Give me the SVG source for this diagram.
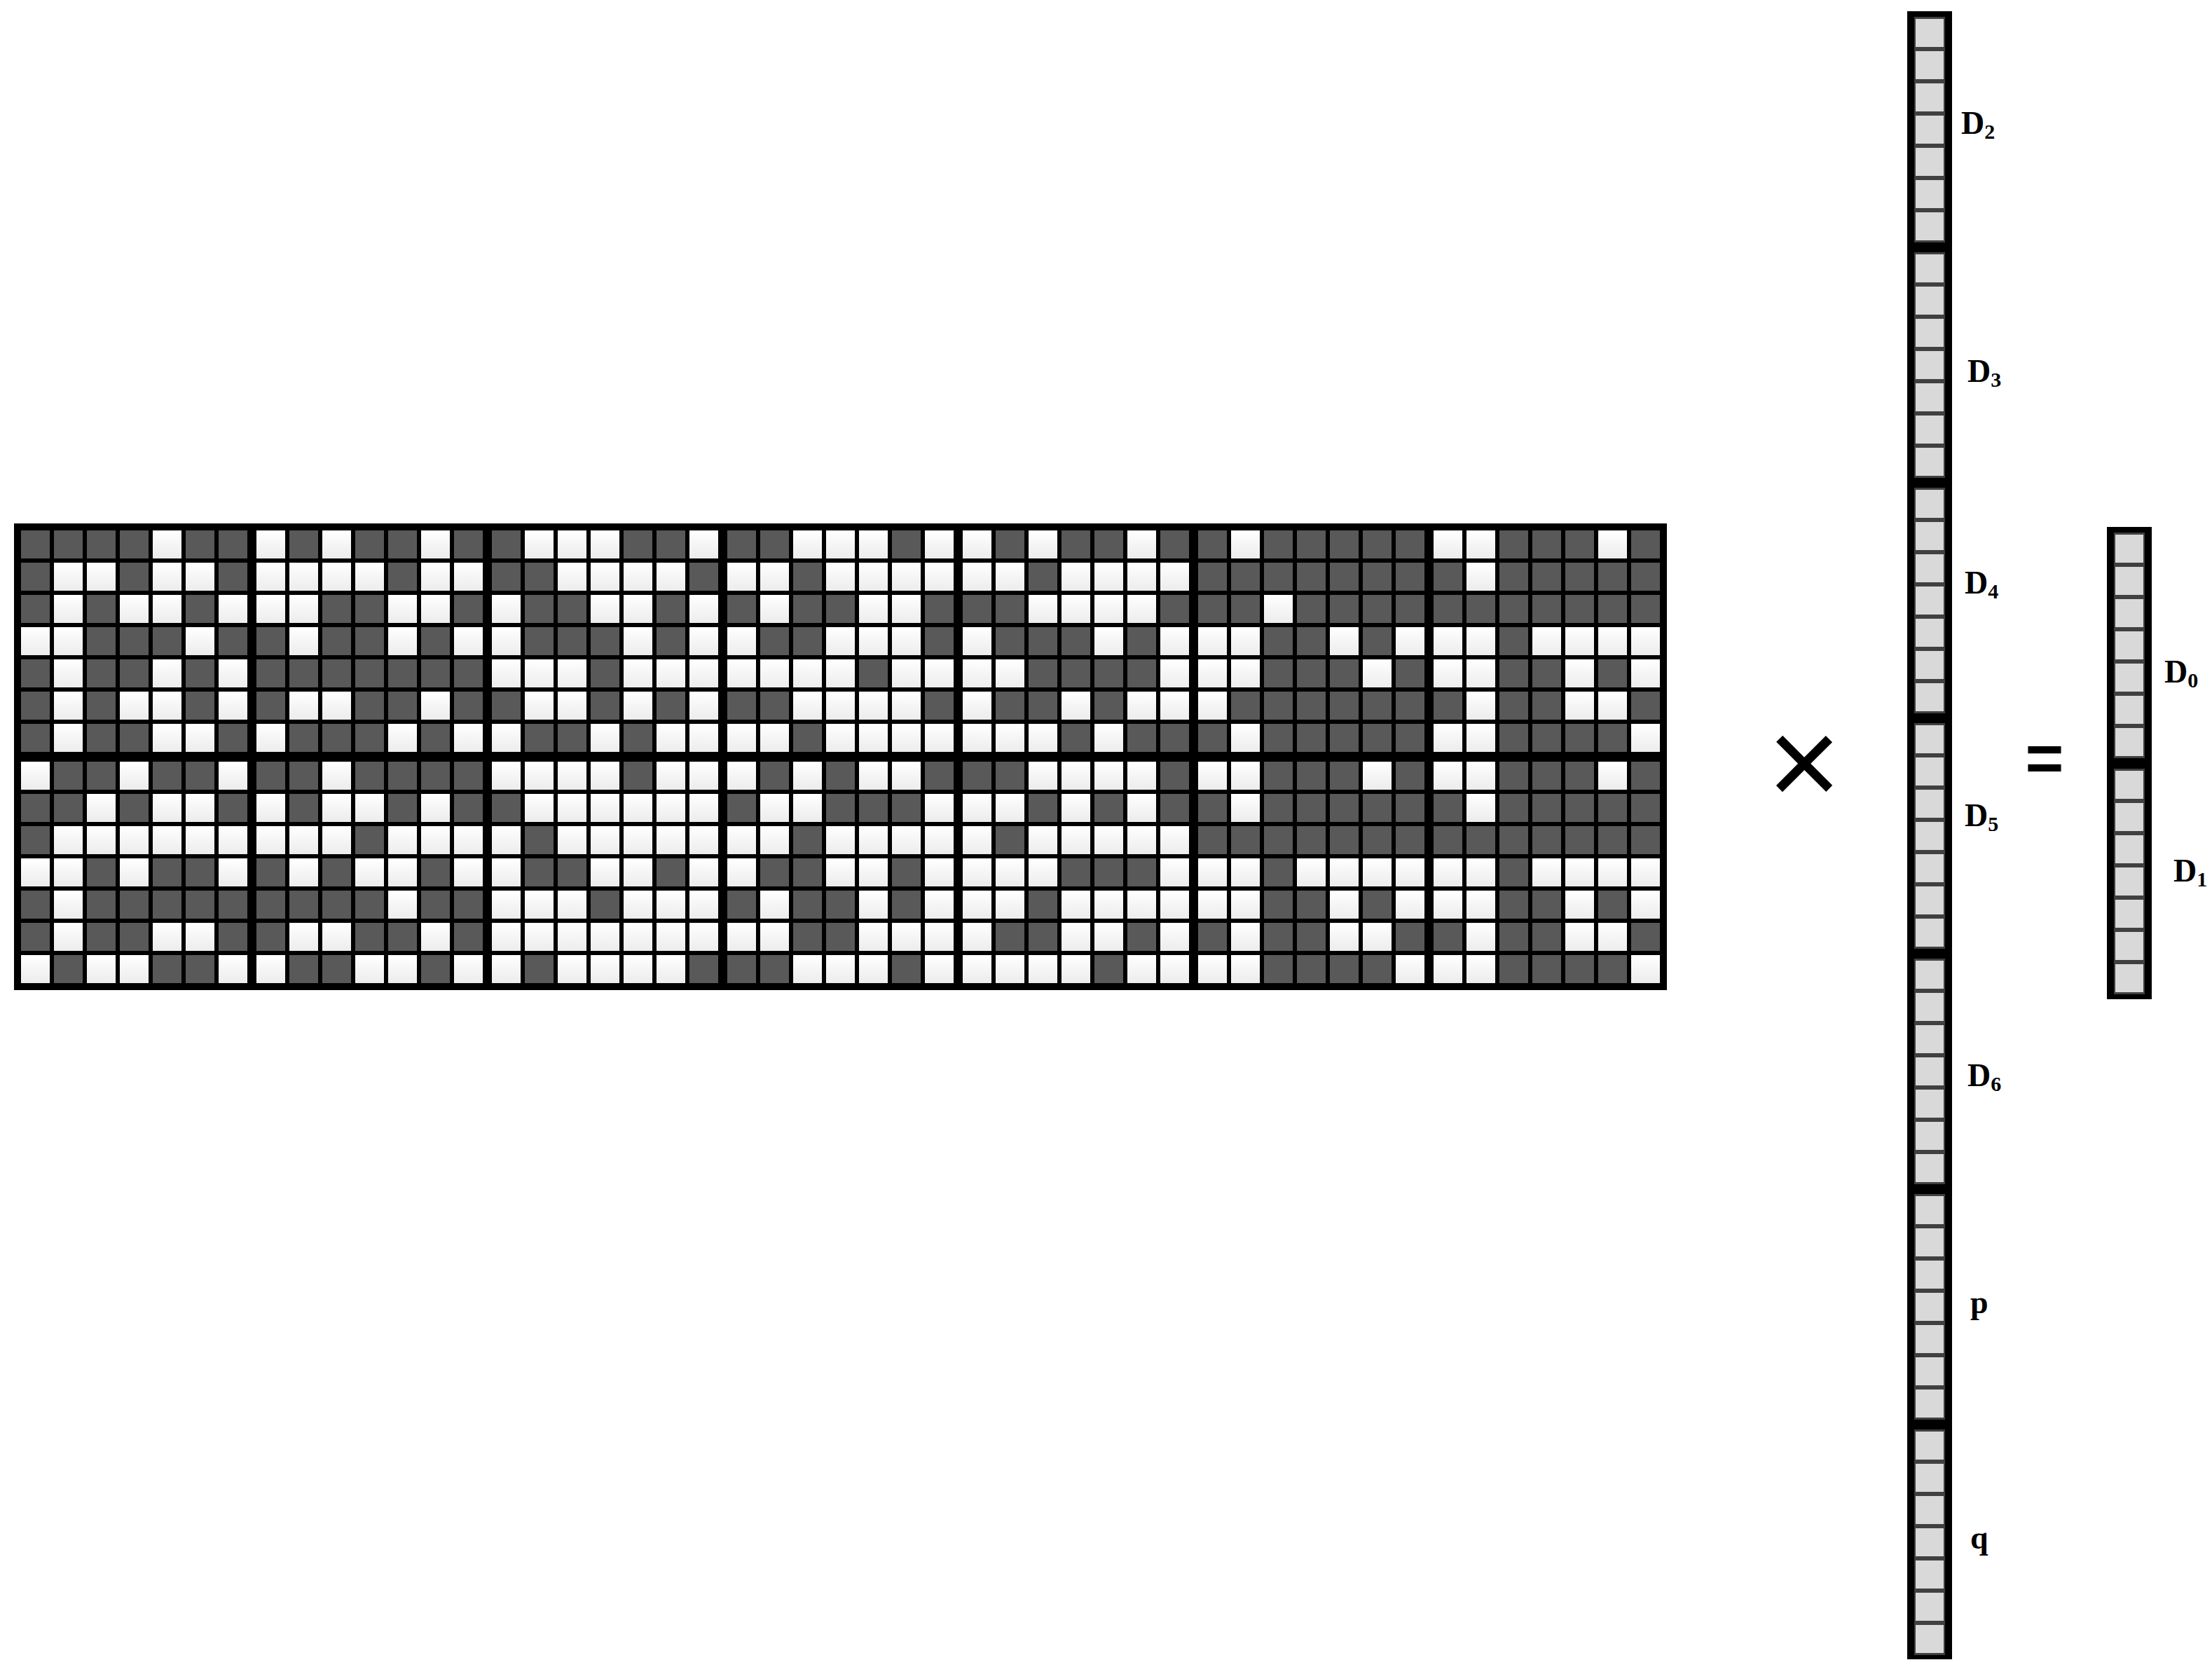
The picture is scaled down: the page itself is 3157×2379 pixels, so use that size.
<svg xmlns="http://www.w3.org/2000/svg" xmlns:xlink="http://www.w3.org/1999/xlink" width="3157" height="2379" viewBox="0 0 3157 2379">
<style>
.lbl{font-family:"Liberation Serif","Times New Roman",serif;font-weight:bold;font-size:46px;fill:#000}
.sub{font-size:30px}
.op{font-family:"Liberation Sans",Arial,sans-serif;fill:#000;text-anchor:middle}
</style>
<defs>
<linearGradient id="gw" x1="0" y1="0" x2="0" y2="1"><stop offset="0" stop-color="#ffffff"/><stop offset="1" stop-color="#ececec"/></linearGradient>
<pattern id="pd" width="47" height="46" patternUnits="userSpaceOnUse"><rect width="41" height="40" fill="#595959"/></pattern>
<pattern id="pc" x="12" y="11" width="40" height="46" patternUnits="userSpaceOnUse"><rect width="40" height="40" fill="#d9d9d9"/></pattern>
<rect id="w" width="41" height="40" fill="url(#gw)"/>
</defs>
<rect width="3157" height="2379" fill="#fff"/>
<g id="matrix">
<rect x="20" y="747" width="2359" height="666" fill="#000"/>
<g id="block-1-1" transform="translate(30,757)"><rect width="323" height="316" fill="url(#pd)"/>
<use href="#w" x="188" y="0"/>
<use href="#w" x="47" y="46"/><use href="#w" x="94" y="46"/><use href="#w" x="188" y="46"/><use href="#w" x="235" y="46"/>
<use href="#w" x="47" y="92"/><use href="#w" x="141" y="92"/><use href="#w" x="188" y="92"/><use href="#w" x="282" y="92"/>
<use href="#w" x="0" y="138"/><use href="#w" x="47" y="138"/><use href="#w" x="235" y="138"/>
<use href="#w" x="47" y="184"/><use href="#w" x="188" y="184"/><use href="#w" x="282" y="184"/>
<use href="#w" x="47" y="230"/><use href="#w" x="141" y="230"/><use href="#w" x="188" y="230"/><use href="#w" x="282" y="230"/>
<use href="#w" x="47" y="276"/><use href="#w" x="188" y="276"/><use href="#w" x="235" y="276"/>
</g>
<g id="block-2-1" transform="translate(30,1087)"><rect width="323" height="316" fill="url(#pd)"/>
<use href="#w" x="0" y="0"/><use href="#w" x="141" y="0"/><use href="#w" x="282" y="0"/>
<use href="#w" x="94" y="46"/><use href="#w" x="188" y="46"/><use href="#w" x="235" y="46"/>
<use href="#w" x="47" y="92"/><use href="#w" x="94" y="92"/><use href="#w" x="141" y="92"/><use href="#w" x="188" y="92"/><use href="#w" x="235" y="92"/><use href="#w" x="282" y="92"/>
<use href="#w" x="0" y="138"/><use href="#w" x="47" y="138"/><use href="#w" x="141" y="138"/><use href="#w" x="282" y="138"/>
<use href="#w" x="47" y="184"/>
<use href="#w" x="47" y="230"/><use href="#w" x="188" y="230"/><use href="#w" x="235" y="230"/>
<use href="#w" x="0" y="276"/><use href="#w" x="94" y="276"/><use href="#w" x="141" y="276"/><use href="#w" x="282" y="276"/>
</g>
<g id="block-1-2" transform="translate(366,757)"><rect width="323" height="316" fill="url(#pd)"/>
<use href="#w" x="0" y="0"/><use href="#w" x="94" y="0"/><use href="#w" x="235" y="0"/>
<use href="#w" x="0" y="46"/><use href="#w" x="47" y="46"/><use href="#w" x="94" y="46"/><use href="#w" x="141" y="46"/><use href="#w" x="235" y="46"/><use href="#w" x="282" y="46"/>
<use href="#w" x="0" y="92"/><use href="#w" x="47" y="92"/><use href="#w" x="188" y="92"/><use href="#w" x="235" y="92"/>
<use href="#w" x="47" y="138"/><use href="#w" x="188" y="138"/><use href="#w" x="282" y="138"/>
<use href="#w" x="47" y="230"/><use href="#w" x="94" y="230"/><use href="#w" x="235" y="230"/>
<use href="#w" x="0" y="276"/><use href="#w" x="188" y="276"/><use href="#w" x="282" y="276"/>
</g>
<g id="block-2-2" transform="translate(366,1087)"><rect width="323" height="316" fill="url(#pd)"/>
<use href="#w" x="94" y="0"/>
<use href="#w" x="0" y="46"/><use href="#w" x="94" y="46"/><use href="#w" x="141" y="46"/><use href="#w" x="235" y="46"/>
<use href="#w" x="0" y="92"/><use href="#w" x="47" y="92"/><use href="#w" x="94" y="92"/><use href="#w" x="188" y="92"/><use href="#w" x="235" y="92"/><use href="#w" x="282" y="92"/>
<use href="#w" x="47" y="138"/><use href="#w" x="141" y="138"/><use href="#w" x="188" y="138"/><use href="#w" x="282" y="138"/>
<use href="#w" x="188" y="184"/>
<use href="#w" x="47" y="230"/><use href="#w" x="94" y="230"/><use href="#w" x="235" y="230"/>
<use href="#w" x="0" y="276"/><use href="#w" x="141" y="276"/><use href="#w" x="188" y="276"/><use href="#w" x="282" y="276"/>
</g>
<g id="block-1-3" transform="translate(702,757)"><rect width="323" height="316" fill="url(#pd)"/>
<use href="#w" x="47" y="0"/><use href="#w" x="94" y="0"/><use href="#w" x="141" y="0"/><use href="#w" x="282" y="0"/>
<use href="#w" x="94" y="46"/><use href="#w" x="141" y="46"/><use href="#w" x="188" y="46"/><use href="#w" x="235" y="46"/>
<use href="#w" x="0" y="92"/><use href="#w" x="141" y="92"/><use href="#w" x="188" y="92"/><use href="#w" x="282" y="92"/>
<use href="#w" x="0" y="138"/><use href="#w" x="188" y="138"/><use href="#w" x="282" y="138"/>
<use href="#w" x="0" y="184"/><use href="#w" x="47" y="184"/><use href="#w" x="94" y="184"/><use href="#w" x="188" y="184"/><use href="#w" x="235" y="184"/><use href="#w" x="282" y="184"/>
<use href="#w" x="47" y="230"/><use href="#w" x="94" y="230"/><use href="#w" x="188" y="230"/><use href="#w" x="282" y="230"/>
<use href="#w" x="0" y="276"/><use href="#w" x="141" y="276"/><use href="#w" x="235" y="276"/><use href="#w" x="282" y="276"/>
</g>
<g id="block-2-3" transform="translate(702,1087)"><rect width="323" height="316" fill="url(#pd)"/>
<use href="#w" x="0" y="0"/><use href="#w" x="47" y="0"/><use href="#w" x="94" y="0"/><use href="#w" x="141" y="0"/><use href="#w" x="235" y="0"/><use href="#w" x="282" y="0"/>
<use href="#w" x="47" y="46"/><use href="#w" x="94" y="46"/><use href="#w" x="141" y="46"/><use href="#w" x="188" y="46"/><use href="#w" x="235" y="46"/><use href="#w" x="282" y="46"/>
<use href="#w" x="0" y="92"/><use href="#w" x="94" y="92"/><use href="#w" x="141" y="92"/><use href="#w" x="188" y="92"/><use href="#w" x="235" y="92"/><use href="#w" x="282" y="92"/>
<use href="#w" x="0" y="138"/><use href="#w" x="141" y="138"/><use href="#w" x="188" y="138"/><use href="#w" x="282" y="138"/>
<use href="#w" x="0" y="184"/><use href="#w" x="47" y="184"/><use href="#w" x="94" y="184"/><use href="#w" x="188" y="184"/><use href="#w" x="235" y="184"/><use href="#w" x="282" y="184"/>
<use href="#w" x="0" y="230"/><use href="#w" x="47" y="230"/><use href="#w" x="94" y="230"/><use href="#w" x="141" y="230"/><use href="#w" x="188" y="230"/><use href="#w" x="235" y="230"/><use href="#w" x="282" y="230"/>
<use href="#w" x="0" y="276"/><use href="#w" x="94" y="276"/><use href="#w" x="141" y="276"/><use href="#w" x="188" y="276"/><use href="#w" x="235" y="276"/>
</g>
<g id="block-1-4" transform="translate(1038,757)"><rect width="323" height="316" fill="url(#pd)"/>
<use href="#w" x="94" y="0"/><use href="#w" x="141" y="0"/><use href="#w" x="188" y="0"/><use href="#w" x="282" y="0"/>
<use href="#w" x="0" y="46"/><use href="#w" x="47" y="46"/><use href="#w" x="141" y="46"/><use href="#w" x="188" y="46"/><use href="#w" x="235" y="46"/><use href="#w" x="282" y="46"/>
<use href="#w" x="47" y="92"/><use href="#w" x="188" y="92"/><use href="#w" x="235" y="92"/>
<use href="#w" x="0" y="138"/><use href="#w" x="141" y="138"/><use href="#w" x="188" y="138"/><use href="#w" x="235" y="138"/>
<use href="#w" x="0" y="184"/><use href="#w" x="47" y="184"/><use href="#w" x="94" y="184"/><use href="#w" x="141" y="184"/><use href="#w" x="235" y="184"/><use href="#w" x="282" y="184"/>
<use href="#w" x="94" y="230"/><use href="#w" x="141" y="230"/><use href="#w" x="188" y="230"/><use href="#w" x="235" y="230"/>
<use href="#w" x="0" y="276"/><use href="#w" x="47" y="276"/><use href="#w" x="141" y="276"/><use href="#w" x="188" y="276"/><use href="#w" x="235" y="276"/><use href="#w" x="282" y="276"/>
</g>
<g id="block-2-4" transform="translate(1038,1087)"><rect width="323" height="316" fill="url(#pd)"/>
<use href="#w" x="0" y="0"/><use href="#w" x="94" y="0"/><use href="#w" x="188" y="0"/><use href="#w" x="235" y="0"/>
<use href="#w" x="47" y="46"/><use href="#w" x="94" y="46"/><use href="#w" x="282" y="46"/>
<use href="#w" x="0" y="92"/><use href="#w" x="47" y="92"/><use href="#w" x="141" y="92"/><use href="#w" x="188" y="92"/><use href="#w" x="235" y="92"/><use href="#w" x="282" y="92"/>
<use href="#w" x="0" y="138"/><use href="#w" x="141" y="138"/><use href="#w" x="188" y="138"/><use href="#w" x="282" y="138"/>
<use href="#w" x="47" y="184"/><use href="#w" x="188" y="184"/><use href="#w" x="282" y="184"/>
<use href="#w" x="0" y="230"/><use href="#w" x="47" y="230"/><use href="#w" x="188" y="230"/><use href="#w" x="235" y="230"/><use href="#w" x="282" y="230"/>
<use href="#w" x="94" y="276"/><use href="#w" x="141" y="276"/><use href="#w" x="188" y="276"/><use href="#w" x="282" y="276"/>
</g>
<g id="block-1-5" transform="translate(1374,757)"><rect width="323" height="316" fill="url(#pd)"/>
<use href="#w" x="0" y="0"/><use href="#w" x="94" y="0"/><use href="#w" x="235" y="0"/>
<use href="#w" x="0" y="46"/><use href="#w" x="47" y="46"/><use href="#w" x="141" y="46"/><use href="#w" x="188" y="46"/><use href="#w" x="235" y="46"/><use href="#w" x="282" y="46"/>
<use href="#w" x="94" y="92"/><use href="#w" x="141" y="92"/><use href="#w" x="188" y="92"/><use href="#w" x="235" y="92"/>
<use href="#w" x="0" y="138"/><use href="#w" x="188" y="138"/><use href="#w" x="282" y="138"/>
<use href="#w" x="0" y="184"/><use href="#w" x="47" y="184"/><use href="#w" x="282" y="184"/>
<use href="#w" x="0" y="230"/><use href="#w" x="141" y="230"/><use href="#w" x="235" y="230"/><use href="#w" x="282" y="230"/>
<use href="#w" x="0" y="276"/><use href="#w" x="47" y="276"/><use href="#w" x="94" y="276"/><use href="#w" x="188" y="276"/>
</g>
<g id="block-2-5" transform="translate(1374,1087)"><rect width="323" height="316" fill="url(#pd)"/>
<use href="#w" x="94" y="0"/><use href="#w" x="141" y="0"/><use href="#w" x="188" y="0"/><use href="#w" x="235" y="0"/>
<use href="#w" x="0" y="46"/><use href="#w" x="47" y="46"/><use href="#w" x="141" y="46"/><use href="#w" x="235" y="46"/>
<use href="#w" x="0" y="92"/><use href="#w" x="94" y="92"/><use href="#w" x="141" y="92"/><use href="#w" x="188" y="92"/><use href="#w" x="235" y="92"/><use href="#w" x="282" y="92"/>
<use href="#w" x="0" y="138"/><use href="#w" x="47" y="138"/><use href="#w" x="94" y="138"/><use href="#w" x="282" y="138"/>
<use href="#w" x="0" y="184"/><use href="#w" x="47" y="184"/><use href="#w" x="141" y="184"/><use href="#w" x="188" y="184"/><use href="#w" x="235" y="184"/><use href="#w" x="282" y="184"/>
<use href="#w" x="0" y="230"/><use href="#w" x="141" y="230"/><use href="#w" x="188" y="230"/><use href="#w" x="282" y="230"/>
<use href="#w" x="0" y="276"/><use href="#w" x="47" y="276"/><use href="#w" x="94" y="276"/><use href="#w" x="141" y="276"/><use href="#w" x="235" y="276"/><use href="#w" x="282" y="276"/>
</g>
<g id="block-1-6" transform="translate(1710,757)"><rect width="323" height="316" fill="url(#pd)"/>
<use href="#w" x="47" y="0"/>
<use href="#w" x="94" y="92"/>
<use href="#w" x="0" y="138"/><use href="#w" x="47" y="138"/><use href="#w" x="188" y="138"/><use href="#w" x="282" y="138"/>
<use href="#w" x="0" y="184"/><use href="#w" x="47" y="184"/><use href="#w" x="235" y="184"/>
<use href="#w" x="0" y="230"/>
<use href="#w" x="47" y="276"/>
</g>
<g id="block-2-6" transform="translate(1710,1087)"><rect width="323" height="316" fill="url(#pd)"/>
<use href="#w" x="0" y="0"/><use href="#w" x="47" y="0"/><use href="#w" x="235" y="0"/>
<use href="#w" x="47" y="46"/>
<use href="#w" x="0" y="138"/><use href="#w" x="47" y="138"/><use href="#w" x="141" y="138"/><use href="#w" x="188" y="138"/><use href="#w" x="235" y="138"/><use href="#w" x="282" y="138"/>
<use href="#w" x="0" y="184"/><use href="#w" x="47" y="184"/><use href="#w" x="188" y="184"/><use href="#w" x="282" y="184"/>
<use href="#w" x="47" y="230"/><use href="#w" x="188" y="230"/><use href="#w" x="235" y="230"/>
<use href="#w" x="0" y="276"/><use href="#w" x="47" y="276"/><use href="#w" x="282" y="276"/>
</g>
<g id="block-1-7" transform="translate(2046,757)"><rect width="323" height="316" fill="url(#pd)"/>
<use href="#w" x="0" y="0"/><use href="#w" x="47" y="0"/><use href="#w" x="235" y="0"/>
<use href="#w" x="47" y="46"/>
<use href="#w" x="0" y="138"/><use href="#w" x="47" y="138"/><use href="#w" x="141" y="138"/><use href="#w" x="188" y="138"/><use href="#w" x="235" y="138"/><use href="#w" x="282" y="138"/>
<use href="#w" x="0" y="184"/><use href="#w" x="47" y="184"/><use href="#w" x="188" y="184"/><use href="#w" x="282" y="184"/>
<use href="#w" x="47" y="230"/><use href="#w" x="188" y="230"/><use href="#w" x="235" y="230"/>
<use href="#w" x="0" y="276"/><use href="#w" x="47" y="276"/><use href="#w" x="282" y="276"/>
</g>
<g id="block-2-7" transform="translate(2046,1087)"><rect width="323" height="316" fill="url(#pd)"/>
<use href="#w" x="0" y="0"/><use href="#w" x="47" y="0"/><use href="#w" x="235" y="0"/>
<use href="#w" x="47" y="46"/>
<use href="#w" x="0" y="138"/><use href="#w" x="47" y="138"/><use href="#w" x="141" y="138"/><use href="#w" x="188" y="138"/><use href="#w" x="235" y="138"/><use href="#w" x="282" y="138"/>
<use href="#w" x="0" y="184"/><use href="#w" x="47" y="184"/><use href="#w" x="188" y="184"/><use href="#w" x="282" y="184"/>
<use href="#w" x="47" y="230"/><use href="#w" x="188" y="230"/><use href="#w" x="235" y="230"/>
<use href="#w" x="0" y="276"/><use href="#w" x="47" y="276"/><use href="#w" x="282" y="276"/>
</g>
</g>
<g id="operator-times"><text class="op" x="2575" y="1150" font-size="180">×</text></g>
<g id="vector-x">
<rect x="2722" y="16" width="64" height="2352" fill="#000"/>
<g id="seg-D2" transform="translate(2722,16)"><rect x="10" y="8" width="44" height="322" fill="#404040"/><rect x="12" y="11" width="40" height="316" fill="url(#pc)"/></g>
<g id="seg-D3" transform="translate(2722,352)"><rect x="10" y="8" width="44" height="322" fill="#404040"/><rect x="12" y="11" width="40" height="316" fill="url(#pc)"/></g>
<g id="seg-D4" transform="translate(2722,688)"><rect x="10" y="8" width="44" height="322" fill="#404040"/><rect x="12" y="11" width="40" height="316" fill="url(#pc)"/></g>
<g id="seg-D5" transform="translate(2722,1024)"><rect x="10" y="8" width="44" height="322" fill="#404040"/><rect x="12" y="11" width="40" height="316" fill="url(#pc)"/></g>
<g id="seg-D6" transform="translate(2722,1360)"><rect x="10" y="8" width="44" height="322" fill="#404040"/><rect x="12" y="11" width="40" height="316" fill="url(#pc)"/></g>
<g id="seg-p" transform="translate(2722,1696)"><rect x="10" y="8" width="44" height="322" fill="#404040"/><rect x="12" y="11" width="40" height="316" fill="url(#pc)"/></g>
<g id="seg-q" transform="translate(2722,2032)"><rect x="10" y="8" width="44" height="322" fill="#404040"/><rect x="12" y="11" width="40" height="316" fill="url(#pc)"/></g>
</g>
<g id="labels-x">
<text class="lbl" x="2799" y="191">D<tspan class="sub" dy="7">2</tspan></text>
<text class="lbl" x="2808" y="545">D<tspan class="sub" dy="7">3</tspan></text>
<text class="lbl" x="2804" y="847">D<tspan class="sub" dy="7">4</tspan></text>
<text class="lbl" x="2804" y="1179">D<tspan class="sub" dy="7">5</tspan></text>
<text class="lbl" x="2808" y="1550">D<tspan class="sub" dy="7">6</tspan></text>
<text class="lbl" x="2812" y="1874">p</text>
<text class="lbl" x="2812" y="2210">q</text>
</g>
<g id="operator-equals"><text class="op" x="2918" y="1114" font-size="94" font-weight="bold">=</text></g>
<g id="vector-result">
<rect x="3007" y="752" width="64" height="674" fill="#000"/>
<g id="seg-D0" transform="translate(3007,752)"><rect x="10" y="8" width="44" height="322" fill="#404040"/><rect x="12" y="11" width="40" height="316" fill="url(#pc)"/></g>
<g id="seg-D1" transform="translate(3007,1089)"><rect x="10" y="8" width="44" height="322" fill="#404040"/><rect x="12" y="11" width="40" height="316" fill="url(#pc)"/></g>
</g>
<g id="labels-result">
<text class="lbl" x="3089" y="974">D<tspan class="sub" dy="7">0</tspan></text>
<text class="lbl" x="3102" y="1258">D<tspan class="sub" dy="7">1</tspan></text>
</g>
<g id="connectors"/>
</svg>
